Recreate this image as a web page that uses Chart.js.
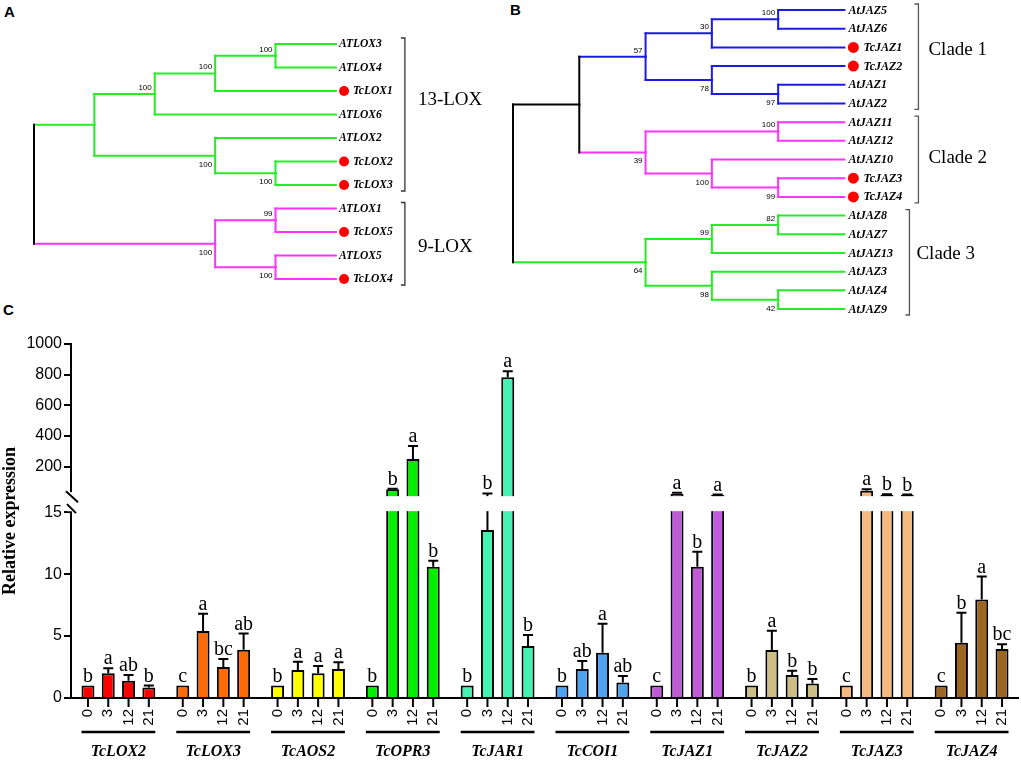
<!DOCTYPE html>
<html>
<head>
<meta charset="utf-8">
<script src="https://cdn.jsdelivr.net/npm/chart.js@4.4.1/dist/chart.umd.min.js"></script>
<style>
    html, body { margin: 0; padding: 0; background: #fff; }
    body { width: 1021px; height: 760px; position: relative; overflow: hidden; }
    .box { position: absolute; }
    .tag { position: absolute; font: bold 15px "Liberation Sans", Arial, sans-serif; color: #000; line-height: 17px; }
</style>
</head>
<body>
<div class="tag" style="left:4px;top:3px">A</div>
<div class="tag" style="left:510px;top:1px">B</div>
<div class="tag" style="left:3px;top:301px">C</div>
<div class="box" style="left:0;top:0;width:500px;height:300px"><canvas id="treeA"></canvas></div>
<div class="box" style="left:500px;top:0;width:521px;height:320px"><canvas id="treeB"></canvas></div>
<div class="box" style="left:0;top:320px;width:1021px;height:440px"><canvas id="expr"></canvas></div>

<script>
// ── Data: trees (node = [depth, bootstrap, children...], leaf = name) ──
const TIP = 5;
const treeA = [0, null,
    [1, null,
        [2, 100, [3, 100, [4, 100, 'ATLOX3', 'ATLOX4'], 'TcLOX1'], 'ATLOX6'],
        [3, 100, 'ATLOX2', [4, 100, 'TcLOX2', 'TcLOX3']]],
    [3, 100, [4, 99, 'ATLOX1', 'TcLOX5'], [4, 100, 'ATLOX5', 'TcLOX4']]];
const lox13 = ['ATLOX3', 'ATLOX4', 'TcLOX1', 'ATLOX6', 'ATLOX2', 'TcLOX2', 'TcLOX3'];
const lox9 = ['ATLOX1', 'TcLOX5', 'ATLOX5', 'TcLOX4'];

const treeB = [0, null,
    [1, null,
        [2, 57, [3, 30, [4, 100, 'AtJAZ5', 'AtJAZ6'], 'TcJAZ1'], [3, 78, 'TcJAZ2', [4, 97, 'AtJAZ1', 'AtJAZ2']]],
        [2, 39, [4, 100, 'AtJAZ11', 'AtJAZ12'], [3, 100, 'AtJAZ10', [4, 99, 'TcJAZ3', 'TcJAZ4']]]],
    [2, 64, [3, 99, [4, 82, 'AtJAZ8', 'AtJAZ7'], 'AtJAZ13'], [3, 98, 'AtJAZ3', [4, 42, 'AtJAZ4', 'AtJAZ9']]]];
const clade1 = ['AtJAZ5', 'AtJAZ6', 'TcJAZ1', 'TcJAZ2', 'AtJAZ1', 'AtJAZ2'];
const clade2 = ['AtJAZ11', 'AtJAZ12', 'AtJAZ10', 'TcJAZ3', 'TcJAZ4'];
const clade3 = ['AtJAZ8', 'AtJAZ7', 'AtJAZ13', 'AtJAZ3', 'AtJAZ4', 'AtJAZ9'];

// ── Data: expression (days after treatment) ──
const genes = ['TcLOX2', 'TcLOX3', 'TcAOS2', 'TcOPR3', 'TcJAR1', 'TcCOI1', 'TcJAZ1', 'TcJAZ2', 'TcJAZ3', 'TcJAZ4'];
const days = ['0', '3', '12', '21'];
const mean0 = [1, 1, 1, 1, 1, 1, 1, 1, 1, 1];
const mean3 = [2.0, 5.4, 2.26, 54, 13.55, 2.34, 24, 3.87, 43, 4.46];
const mean12 = [1.4, 2.5, 2.0, 250, 784, 3.66, 10.6, 1.85, 16.5, 7.95];
const mean21 = [0.85, 3.9, 2.34, 10.6, 4.2, 1.26, 16, 1.18, 16, 3.95];
const err0 = [0, 0, 0, 0, 0, 0, 0, 0, 0, 0];
const err3 = [0.4, 1.4, 0.67, 3, 12.5, 0.64, 6, 1.56, 10, 2.42];
const err12 = [0.45, 0.65, 0.58, 85, 39, 2.34, 1.2, 0.35, 4.5, 1.85];
const err21 = [0.15, 1.3, 0.54, 0.47, 0.88, 0.51, 3, 0.35, 3, 0.38];
const sig0 = ['b', 'c', 'b', 'b', 'b', 'b', 'c', 'b', 'c', 'c'];
const sig3 = ['a', 'a', 'a', 'b', 'b', 'ab', 'a', 'a', 'a', 'b'];
const sig12 = ['ab', 'bc', 'a', 'a', 'a', 'a', 'b', 'b', 'b', 'a'];
const sig21 = ['b', 'ab', 'a', 'b', 'b', 'ab', 'a', 'b', 'b', 'bc'];
const yTicks = [0, 5, 10, 15, 200, 400, 600, 800, 1000];
const BREAK = 15;
const Y_TOP = 1000;

const means = [mean0, mean3, mean12, mean21];
const errs = [err0, err3, err12, err21];
const sigs = [sig0, sig3, sig12, sig21];

// ── Styles ──
const GREEN = '#22ee22', PINK = '#ff33ff', BLUE = '#1a1ae8';
const GENE_COLORS = ['#ff0000', '#ff6a08', '#ffff00', '#00f000', '#44f2b4', '#4da3f0', '#c05ad9', '#cbbf85', '#f5ba80', '#9c6520'];
const SERIF = '"Liberation Serif", "Times New Roman", serif';
const SANS = '"Liberation Sans", Arial, sans-serif';
const DOT_GAP = 0.135;
const X_END = 5.25;   // a little room right of the tips so the dots are inside the area

// ── Trees ──
function buildTree(src) {
    const leaves = [], inner = [];
    const walk = n => {
        if (typeof n === 'string') {
            const leaf = { name: n, x: TIP, y: leaves.length, names: [n] };
            leaves.push(leaf);
            return leaf;
        }
        const kids = n.slice(2).map(walk);
        kids.forEach((k, i) => { k.first = i === 0; });
        const node = {
            x: n[0], boot: n[1], kids,
            y: (kids[0].y + kids[kids.length - 1].y) / 2,
            names: kids.flatMap(k => k.names)
        };
        inner.push(node);
        return node;
    };
    walk(src);
    return { leaves, inner };
}

function treeChart(id, src, clades, look) {
    const { leaves, inner } = buildTree(src);
    const tint = n => {
        const c = clades.find(c => n.names.every(m => c.members.includes(m)));
        return c ? c.color : '#000';
    };
    const datasets = [];
    const seg = (a, b, color) => datasets.push({
        data: [a, b], borderColor: color, borderWidth: 2, showLine: true,
        pointRadius: 0, clip: false, borderCapStyle: 'square'
    });
    inner.forEach(p => p.kids.forEach(k => {
        seg({ x: p.x, y: p.y }, { x: p.x, y: k.y }, tint(p));
        seg({ x: p.x, y: k.y }, { x: k.x, y: k.y }, tint(k));
    }));
    datasets.push({
        data: leaves.filter(l => l.name.startsWith('Tc')).map(l => ({ x: TIP + DOT_GAP, y: l.y })),
        pointRadius: look.dot, pointBackgroundColor: '#f00', pointBorderColor: '#f00',
        pointBorderWidth: 0, showLine: false, clip: false
    });

    const text = {
        id: 'treeText',
        afterDatasetsDraw(chart) {
            const ctx = chart.ctx, xs = chart.scales.x, ys = chart.scales.y;
            const tipPx = xs.getPixelForValue(TIP);
            ctx.save();
            ctx.fillStyle = '#000';
            ctx.font = 'italic bold ' + look.leafSize + 'px ' + SERIF;
            ctx.textAlign = 'left';
            ctx.textBaseline = 'middle';
            leaves.forEach(l => {
                const dx = l.name.startsWith('Tc') ? look.tcGap : look.atGap;
                ctx.fillText(l.name, tipPx + dx, ys.getPixelForValue(l.y) + 0.5);
            });
            ctx.font = '8px ' + SANS;
            ctx.textAlign = 'right';
            ctx.textBaseline = 'alphabetic';
            inner.forEach(n => {
                if (n.boot == null) return;
                const px = xs.getPixelForValue(n.x) - 3, py = ys.getPixelForValue(n.y);
                ctx.fillText(String(n.boot), px, n.first ? py - 4 : py + 11);
            });
            ctx.strokeStyle = look.bracket;
            ctx.lineWidth = 1.3;
            clades.forEach((c, i) => {
                const idx = c.members.map(m => leaves.find(l => l.name === m).y);
                const y1 = ys.getPixelForValue(Math.min(...idx)) - 6;
                const y2 = ys.getPixelForValue(Math.max(...idx)) + 6;
                const bx = tipPx + look.bracketDx[i];
                ctx.beginPath();
                ctx.moveTo(bx - 4, y1); ctx.lineTo(bx, y1); ctx.lineTo(bx, y2); ctx.lineTo(bx - 4, y2);
                ctx.stroke();
                ctx.font = '19px ' + SERIF;
                ctx.textAlign = 'left';
                ctx.textBaseline = 'middle';
                ctx.fillText(c.name, bx + look.labelDx[i], ys.getPixelForValue(look.labelY[i]));
            });
            ctx.restore();
        }
    };

    new Chart(document.getElementById(id), {
        type: 'scatter',
        data: { datasets },
        options: {
            responsive: true, maintainAspectRatio: false, animation: false, events: [],
            layout: { padding: look.pad },
            plugins: { legend: { display: false }, tooltip: { enabled: false } },
            scales: {
                x: { type: 'linear', display: false, min: 0, max: X_END },
                y: { type: 'linear', display: false, min: 0, max: leaves.length - 1, reverse: true }
            }
        },
        plugins: [text]
    });
}

treeChart('treeA', treeA, [
    { name: '13-LOX', members: lox13, color: GREEN },
    { name: '9-LOX', members: lox9, color: PINK }
], {
    pad: { left: 34, right: 149, top: 44, bottom: 21 },
    dot: 5, leafSize: 11.5, atGap: 3, tcGap: 17, bracket: '#333',
    bracketDx: [69, 69], labelDx: [13, 13], labelY: [2.4, 8.65]
});

treeChart('treeB', treeB, [
    { name: 'Clade 1', members: clade1, color: BLUE },
    { name: 'Clade 2', members: clade2, color: PINK },
    { name: 'Clade 3', members: clade3, color: GREEN }
], {
    pad: { left: 13, right: 160, top: 10, bottom: 11 },
    dot: 5.5, leafSize: 12, atGap: 4, tcGap: 19, bracket: '#555',
    bracketDx: [74, 74, 65], labelDx: [10, 10, 7], labelY: [2.14, 7.92, 13.05]
});

// ── Broken y axis: 0–15 below the break, 15–1000 above it ──
const LOW_SHARE = 0.525;
const GAP_SHARE = 0.048;

class BrokenScale extends Chart.LinearScale {
    static id = 'broken';
    static defaults = {};
    determineDataLimits() { this.min = 0; this.max = Y_TOP; }
    buildTicks() { return yTicks.map(value => ({ value })); }
    _seg() {
        const h = this.bottom - this.top;
        const lowTop = this.bottom - h * LOW_SHARE;
        return { lowTop, upBot: lowTop - h * GAP_SHARE };
    }
    getPixelForValue(v) {
        const { lowTop, upBot } = this._seg();
        if (v <= BREAK) return this.bottom - (v / BREAK) * (this.bottom - lowTop);
        return upBot - (v - BREAK) / (Y_TOP - BREAK) * (upBot - this.top);
    }
    getValueForPixel(p) {
        const { lowTop, upBot } = this._seg();
        if (p >= lowTop) return (this.bottom - p) / (this.bottom - lowTop) * BREAK;
        return BREAK + (upBot - p) / (upBot - this.top) * (Y_TOP - BREAK);
    }
}
Chart.register(BrokenScale);

const barMarks = {
    id: 'barMarks',
    afterDatasetsDraw(chart) {
        const { ctx, chartArea: a } = chart;
        const y = chart.scales.y;
        ctx.save();
        ctx.strokeStyle = '#000';
        ctx.fillStyle = '#000';
        ctx.lineWidth = 2;
        ctx.beginPath();
        ctx.moveTo(a.left - 1, a.bottom); ctx.lineTo(a.right, a.bottom);
        ctx.stroke();

        const labels = [];
        chart.data.datasets.forEach((ds, d) => {
            chart.getDatasetMeta(d).data.forEach((bar, g) => {
                const e = errs[d][g];
                const top = y.getPixelForValue(means[d][g] + e);
                if (e > 0) {
                    ctx.beginPath();
                    ctx.moveTo(bar.x, bar.y); ctx.lineTo(bar.x, top);
                    ctx.moveTo(bar.x - 5, top); ctx.lineTo(bar.x + 5, top);
                    ctx.stroke();
                }
                labels.push([sigs[d][g], bar.x, top]);
            });
        });

        // blank band of the axis break
        const lowTop = y.getPixelForValue(BREAK);
        const upBot = y.getPixelForValue(BREAK + 0.0001);
        ctx.fillStyle = '#fff';
        ctx.fillRect(a.left - 4, upBot + 1, a.right - a.left + 6, lowTop - upBot - 2);
        ctx.fillRect(a.left - 4, upBot - 3, 8, lowTop - upBot + 2);
        ctx.beginPath();
        ctx.moveTo(a.left - 5, upBot - 4); ctx.lineTo(a.left + 7, upBot + 7);
        ctx.moveTo(a.left - 4, lowTop - 8); ctx.lineTo(a.left + 5, lowTop + 1);
        ctx.stroke();

        ctx.fillStyle = '#000';
        ctx.font = '20px ' + SERIF;
        ctx.textAlign = 'center';
        ctx.textBaseline = 'alphabetic';
        labels.forEach(([s, x, top]) => ctx.fillText(s, x, top - 4));
        ctx.restore();
    },
    afterDraw(chart) {
        const { ctx, chartArea: a } = chart;
        const metas = days.map((d, i) => chart.getDatasetMeta(i).data);
        ctx.save();
        ctx.strokeStyle = '#000';
        ctx.fillStyle = '#000';
        genes.forEach((gene, g) => {
            ctx.lineWidth = 2;
            days.forEach((day, d) => {
                const bar = metas[d][g];
                ctx.beginPath();
                ctx.moveTo(bar.x, a.bottom); ctx.lineTo(bar.x, a.bottom + 9);
                ctx.stroke();
                ctx.save();
                ctx.translate(bar.x, a.bottom + 11);
                ctx.rotate(-Math.PI / 2);
                ctx.font = '15px ' + SANS;
                ctx.textAlign = 'right';
                ctx.textBaseline = 'middle';
                ctx.fillText(day, 0, 0);
                ctx.restore();
            });
            const first = metas[0][g], last = metas[days.length - 1][g];
            ctx.lineWidth = 2.5;
            ctx.beginPath();
            ctx.moveTo(first.x - first.width / 2, a.bottom + 34);
            ctx.lineTo(last.x + last.width / 2, a.bottom + 34);
            ctx.stroke();
            ctx.font = 'italic bold 16px ' + SERIF;
            ctx.textAlign = 'center';
            ctx.textBaseline = 'alphabetic';
            ctx.fillText(gene, chart.scales.x.getPixelForValue(g), a.bottom + 58);
        });
        ctx.restore();
    }
};

new Chart(document.getElementById('expr'), {
    type: 'bar',
    data: {
        labels: genes,
        datasets: days.map((d, i) => ({
            label: d,
            data: means[i],
            backgroundColor: GENE_COLORS,
            borderColor: '#000',
            borderWidth: 2,
            categoryPercentage: 0.856,
            barPercentage: 0.64
        }))
    },
    options: {
        responsive: true, maintainAspectRatio: false, animation: false, events: [],
        layout: { padding: { top: 24, bottom: 62, left: 0, right: 2 } },
        plugins: { legend: { display: false }, tooltip: { enabled: false } },
        scales: {
            x: { type: 'category', display: false },
            y: {
                type: 'broken', position: 'left',
                afterFit: s => { s.width = 71; },
                border: { color: '#000', width: 2 },
                grid: { drawOnChartArea: false, color: '#000', lineWidth: 2, tickLength: 7 },
                ticks: { color: '#000', font: { family: SANS, size: 16 }, padding: 2, autoSkip: false, callback: v => v },
                title: {
                    display: true, text: 'Relative expression', color: '#000', padding: 0,
                    font: { family: SERIF, size: 18, weight: 'bold' }
                }
            }
        }
    },
    plugins: [barMarks]
});
</script>
</body>
</html>
